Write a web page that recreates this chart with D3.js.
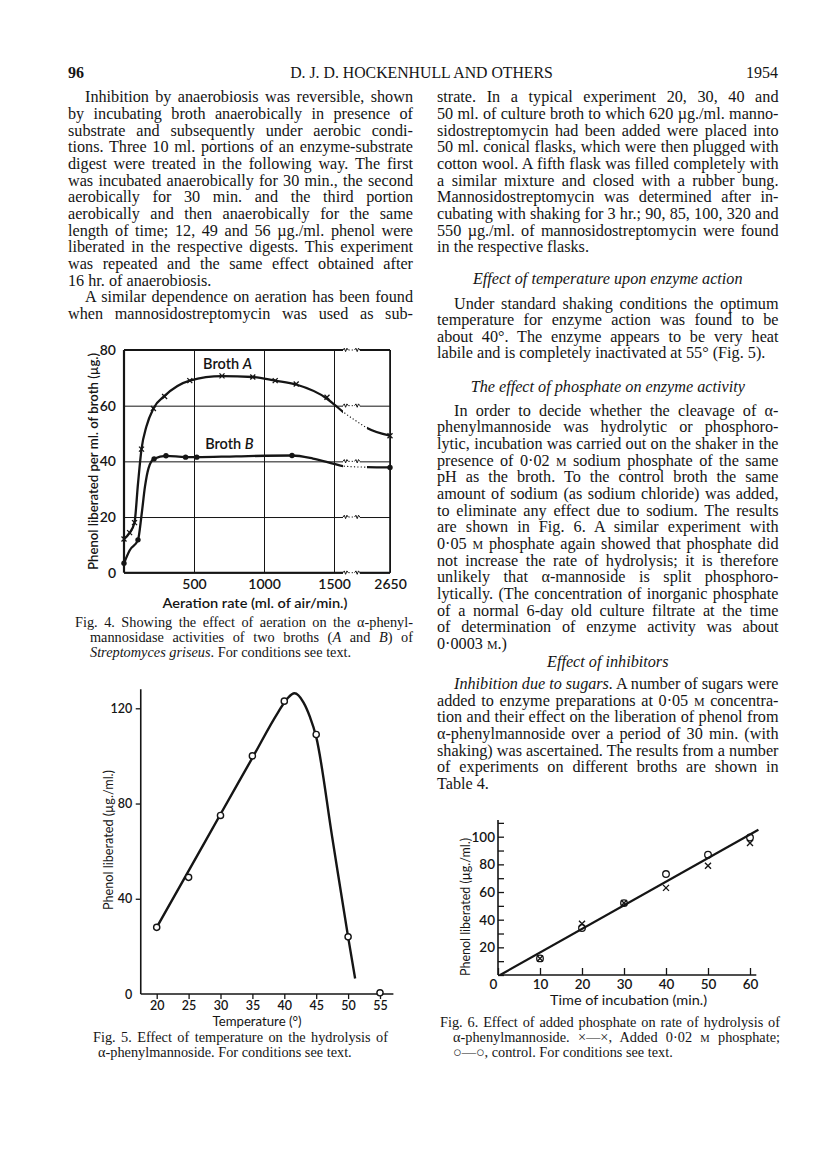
<!DOCTYPE html>
<html>
<head>
<meta charset="utf-8">
<script src="https://cdn.jsdelivr.net/npm/d3@7/dist/d3.min.js"></script>
<style>
  body { margin: 0; background: #fff; }
  svg { display: block; }
  text { white-space: pre; }
</style>
</head>
<body>
<svg id="page" width="816" height="1164"></svg>
<script>
// Fig. 4: aeration rate (ml. of air/min.) against phenol liberated (µg./ml. broth)
const aerationTicks = [500, 1000, 1500, 2650]
const phenol4Ticks = [0, 20, 40, 60, 80]
const brothA = [[0, 12.1], [40, 14.4], [75, 18], [125, 44.4], [210, 59], [290, 63.3], [470, 69], [700, 70.7], [920, 70.3], [1080, 69], [1230, 67.8], [1450, 63], [2650, 49.2]]
const brothB = [[0, 3.4], [100, 11.8], [215, 40.9], [300, 42], [440, 41.5], [520, 41.5], [1200, 42.1], [2650, 37.8]]
// the hand-drawn curves
const brothACurve = [[0, 12.1], [40, 14.3], [75, 18], [100, 32], [125, 44.4], [160, 52.5], [210, 59], [290, 63.5], [470, 69], [700, 70.6], [920, 70.3], [1080, 69], [1230, 67.6], [1450, 62.5], [1500, 60.5], [1685, 57.8], [1930, 54.8], [2178, 52], [2650, 49.2]]
const brothBCurve = [[0, 3.4], [40, 8], [100, 11.8], [126, 21], [150, 31], [175, 37.5], [215, 40.9], [300, 42], [440, 41.5], [520, 41.5], [800, 41.8], [1200, 42.1], [1350, 41], [1500, 39.1], [1685, 38.3], [2178, 37.9], [2650, 37.8]]
const aerationBreak = [1685, 2030]
const dottedSpan = [1685, 2178]

// Fig. 5: temperature against phenol liberated
const tempTicks = [20, 25, 30, 35, 40, 45, 50, 55]
const phenol5Ticks = [0, 40, 80, 120]
const tempPoints = [[20, 28], [25, 49], [30, 75], [35, 100], [40, 123], [45, 109], [50, 24], [55, 0.5]]
const tempCurve = [[20, 28], [25, 51.7], [30, 75.5], [35, 99.2], [39, 118.2], [40.5, 124.2], [41.6, 126.3], [43, 122.5], [44, 116.5], [45, 108], [47.5, 66], [50, 24], [51.1, 6.5]]

// Fig. 6: time of incubation against phenol liberated
const timeTicks = [0, 10, 20, 30, 40, 50, 60]
const phenol6Ticks = [0, 10, 20, 30, 40, 50, 60, 70, 80, 90, 100, 110]
const incubationTimes = [10, 20, 30, 40, 50, 60]
const withPhosphate = [12, 37, 52, 63, 79, 95.5]
const control = [12, 34, 52, 73, 87, 99.4]
const fitLine = [[0.5, 0], [62, 105]]

// page text
const leftColumn = [
  { y: 102.3, indent: true, lines: [
    'Inhibition by anaerobiosis was reversible, shown',
    'by incubating broth anaerobically in presence of',
    'substrate and subsequently under aerobic condi-',
    'tions. Three 10 ml. portions of an enzyme-substrate',
    'digest were treated in the following way. The first',
    'was incubated anaerobically for 30 min., the second',
    'aerobically for 30 min. and the third portion',
    'aerobically and then anaerobically for the same',
    'length of time; 12, 49 and 56 µg./ml. phenol were',
    'liberated in the respective digests. This experiment',
    'was repeated and the same effect obtained after',
    '16 hr. of anaerobiosis.'] },
  { y: 302.2, indent: true, cont: true, lines: [
    'A similar dependence on aeration has been found',
    'when mannosidostreptomycin was used as sub-'] }
]
const rightColumn = [
  { y: 102.3, lines: [
    'strate. In a typical experiment 20, 30, 40 and',
    '50 ml. of culture broth to which 620 µg./ml. manno-',
    'sidostreptomycin had been added were placed into',
    '50 ml. conical flasks, which were then plugged with',
    'cotton wool. A fifth flask was filled completely with',
    'a similar mixture and closed with a rubber bung.',
    'Mannosidostreptomycin was determined after in-',
    'cubating with shaking for 3 hr.; 90, 85, 100, 320 and',
    '550 µg./ml. of mannosidostreptomycin were found',
    'in the respective flasks.'] },
  { y: 284, heading: 'Effect of temperature upon enzyme action' },
  { y: 308.5, indent: true, lines: [
    'Under standard shaking conditions the optimum',
    'temperature for enzyme action was found to be',
    'about 40°. The enzyme appears to be very heat',
    'labile and is completely inactivated at 55° (Fig. 5).'] },
  { y: 391.5, heading: 'The effect of phosphate on enzyme activity' },
  { y: 415.7, indent: true, lines: [
    'In order to decide whether the cleavage of α-',
    'phenylmannoside was hydrolytic or phosphoro-',
    'lytic, incubation was carried out on the shaker in the',
    'presence of 0·02 ^M sodium phosphate of the same',
    'pH as the broth. To the control broth the same',
    'amount of sodium (as sodium chloride) was added,',
    'to eliminate any effect due to sodium. The results',
    'are shown in Fig. 6. A similar experiment with',
    '0·05 ^M phosphate again showed that phosphate did',
    'not increase the rate of hydrolysis; it is therefore',
    'unlikely that α-mannoside is split phosphoro-',
    'lytically. (The concentration of inorganic phosphate',
    'of a normal 6-day old culture filtrate at the time',
    'of determination of enzyme activity was about',
    '0·0003 ^M.)'] },
  { y: 667.3, heading: 'Effect of inhibitors' },
  { y: 689, indent: true, lines: [
    '*Inhibition due to sugars.* A number of sugars were',
    'added to enzyme preparations at 0·05 ^M concentra-',
    'tion and their effect on the liberation of phenol from',
    'α-phenylmannoside over a period of 30 min. (with',
    'shaking) was ascertained. The results from a number',
    'of experiments on different broths are shown in',
    'Table 4.'] }
]
const fig4Caption = [
  'Fig. 4. Showing the effect of aeration on the α-phenyl-',
  'mannosidase activities of two broths (*A* and *B*) of',
  '*Streptomyces griseus*. For conditions see text.']
const fig5Caption = [
  'Fig. 5. Effect of temperature on the hydrolysis of',
  'α-phenylmannoside. For conditions see text.']
const fig6Caption = [
  'Fig. 6. Effect of added phosphate on rate of hydrolysis of',
  'α-phenylmannoside. ×—×, Added 0·02 ^M phosphate;',
  '○—○, control. For conditions see text.']

const svg = d3.select('#page')
const serif = '"Liberation Serif", "DejaVu Serif", serif'
const sans = 'Lato, "Open Sans", sans-serif'
const ink = '#151515'
const bodySize = 16.2
const lineStep = 16.66
const captionSize = 14.3
const captionStep = 15

// one line of text; *...* is italic, ^M a small capital M
function richLine(parent, str, x, y, opts = {}) {
  const t = parent.append('text')
    .attr('x', x)
    .attr('y', y)
    .attr('fill', ink)
    .attr('font-family', opts.family || serif)
    .attr('font-size', opts.size || bodySize)
  if (opts.anchor) t.attr('text-anchor', opts.anchor)
  if (opts.italic) t.attr('font-style', 'italic')
  str.split(/(\*[^*]+\*|\^M)/).filter((s) => s).forEach((s) => {
    if (s[0] === '*') t.append('tspan').attr('font-style', 'italic').text(s.slice(1, -1))
    else if (s === '^M') t.append('tspan').attr('font-size', '0.74em').text('M')
    else t.append('tspan').text(s)
  })
  if (opts.width) {
    const natural = t.node().getComputedTextLength()
    const spaces = (t.text().match(/ /g) || []).length
    const ws = spaces ? (opts.width - natural) / spaces : 0
    if (ws >= -0.8) t.attr('word-spacing', ws)
    else t.attr('textLength', opts.width).attr('lengthAdjust', 'spacingAndGlyphs')
  }
  return t
}

function drawColumn(blocks, x, width) {
  blocks.forEach((block) => {
    if (block.heading) {
      richLine(svg, block.heading, x + width / 2, block.y, { anchor: 'middle', italic: true })
      return
    }
    block.lines.forEach((line, i) => {
      const indent = block.indent && i === 0 ? 17 : 0
      const last = i === block.lines.length - 1 && !block.cont
      richLine(svg, line, x + indent, block.y + i * lineStep, { width: last ? null : width - indent })
    })
  })
}

// running head
richLine(svg, '96', 68, 77.5, { size: 16 }).attr('font-weight', 'bold')
richLine(svg, 'D. J. D. HOCKENHULL AND OTHERS', 421.5, 77.5, { size: 15.8, anchor: 'middle' })
richLine(svg, '1954', 778, 77.5, { size: 16, anchor: 'end' })

drawColumn(leftColumn, 68, 345)
drawColumn(rightColumn, 437, 341.5)

function styleAxis(g, size, weight) {
  g.select('.domain').remove()
  g.attr('font-family', null).attr('font-size', null)
  g.selectAll('text')
    .attr('font-family', sans)
    .attr('font-size', size)
    .attr('font-weight', weight || 'normal')
    .attr('fill', ink)
  g.selectAll('line').attr('stroke', ink)
}

function axisTitle(parent, str, x, y, size, length, vertical) {
  const t = richLine(parent, str, 0, 0, { family: sans, size, anchor: 'middle' })
    .attr('transform', vertical ? `translate(${x},${y}) rotate(-90)` : `translate(${x},${y})`)
    .attr('textLength', length)
    .attr('lengthAdjust', 'spacingAndGlyphs')
  if (vertical) t.attr('dy', '0.35em')
  return t
}

function crossPath(size) {
  return `M${-size},${-size}L${size},${size}M${-size},${size}L${size},${-size}`
}

function caption(lines, x0, x1, right, y) {
  lines.forEach((line, i) => {
    const x = i === 0 ? x0 : x1
    const justify = right && i < lines.length - 1
    richLine(svg, line, x, y + i * captionStep, { size: captionSize, width: justify ? right - x : null })
  })
}

// ---------- Fig. 4 ----------
const x4 = d3.scaleLinear().domain([0, 1500, 2650]).range([124, 334, 390])
const y4 = d3.scaleLinear().domain([0, 80]).range([572.7, 350])
const g4 = svg.append('g')

const xAxis4 = g4.append('g')
  .attr('transform', `translate(0,${y4(0)})`)
  .call(d3.axisBottom(x4).tickValues(aerationTicks).tickFormat(d3.format('d'))
    .tickSize(y4(80) - y4(0)).tickPadding(6))
styleAxis(xAxis4, 14, 600)
xAxis4.selectAll('line').attr('stroke-width', 1)

const yAxis4 = g4.append('g')
  .attr('transform', `translate(${x4(0)},0)`)
  .call(d3.axisLeft(y4).tickValues(phenol4Ticks).tickSize(x4(0) - x4(2650)).tickPadding(8))
styleAxis(yAxis4, 14, 600)
yAxis4.selectAll('line').attr('stroke-width', 1)

// frame
const frame4 = [
  [x4(0), y4(0), x4(0), y4(80), 2.2],
  [x4(0), y4(0), x4(2650), y4(0), 2],
  [x4(0), y4(80), x4(2650), y4(80), 1.8],
  [x4(2650), y4(0), x4(2650), y4(80), 1.6]
]
g4.selectAll('line.frame').data(frame4).enter().append('line')
  .attr('class', 'frame')
  .attr('x1', (d) => d[0]).attr('y1', (d) => d[1])
  .attr('x2', (d) => d[2]).attr('y2', (d) => d[3])
  .attr('stroke', ink)
  .attr('stroke-width', (d) => d[4])

// scale break marks on every horizontal rule
const bx0 = x4(aerationBreak[0])
const bx1 = x4(aerationBreak[1])
const breaks = g4.selectAll('g.break').data(phenol4Ticks).enter().append('g').attr('class', 'break')
breaks.append('rect')
  .attr('x', bx0).attr('y', (d) => y4(d) - 2.2)
  .attr('width', bx1 - bx0).attr('height', 4.4)
  .attr('fill', '#fff')
breaks.append('line')
  .attr('x1', bx0 + 5.5).attr('x2', bx1 - 5.5)
  .attr('y1', (d) => y4(d)).attr('y2', (d) => y4(d))
  .attr('stroke', ink).attr('stroke-width', 1).attr('stroke-dasharray', '1.2,2')
const zig = (x, y) => `M${x},${y}l1.3,-1.8l1.3,3.4l1.3,-3.4l1.3,1.8`
breaks.append('path')
  .attr('d', (d) => zig(bx0, y4(d)) + zig(bx1 - 5.2, y4(d)))
  .attr('fill', 'none').attr('stroke', ink).attr('stroke-width', 1)

// clip the curves so they run dotted across the break
const defs = svg.append('defs')
const solidClip = defs.append('clipPath').attr('id', 'solid4')
solidClip.append('rect').attr('x', 0).attr('y', 0).attr('width', x4(dottedSpan[0])).attr('height', 1164)
solidClip.append('rect').attr('x', x4(dottedSpan[1])).attr('y', 0).attr('width', 816 - x4(dottedSpan[1])).attr('height', 1164)
defs.append('clipPath').attr('id', 'dotted4').append('rect')
  .attr('x', x4(dottedSpan[0])).attr('y', 0)
  .attr('width', x4(dottedSpan[1]) - x4(dottedSpan[0])).attr('height', 1164)

const line4 = d3.line().x((d) => x4(d[0])).y((d) => y4(d[1])).curve(d3.curveMonotoneX)
;[brothACurve, brothBCurve].forEach((curve) => {
  g4.append('path').attr('d', line4(curve)).attr('clip-path', 'url(#solid4)')
    .attr('fill', 'none').attr('stroke', ink).attr('stroke-width', 2.3)
  g4.append('path').attr('d', line4(curve)).attr('clip-path', 'url(#dotted4)')
    .attr('fill', 'none').attr('stroke', ink).attr('stroke-width', 1.1).attr('stroke-dasharray', '1.2,2.2')
})

g4.selectAll('path.brothA').data(brothA).enter().append('path')
  .attr('class', 'brothA')
  .attr('transform', (d) => `translate(${x4(d[0])},${y4(d[1])})`)
  .attr('d', crossPath(2.5))
  .attr('stroke', ink).attr('stroke-width', 1.3)
g4.selectAll('circle.brothB').data(brothB).enter().append('circle')
  .attr('class', 'brothB')
  .attr('cx', (d) => x4(d[0])).attr('cy', (d) => y4(d[1]))
  .attr('r', 2.7).attr('fill', ink)

richLine(g4, 'Broth *A*', x4(565), y4(73), { family: sans, size: 14.5 }).attr('font-weight', 600)
richLine(g4, 'Broth *B*', x4(580), y4(44.6), { family: sans, size: 14.5 }).attr('font-weight', 600)
axisTitle(g4, 'Phenol liberated per ml. of broth (µg.)', 93.5, 461.5, 14, 217, true).attr('font-weight', 600)
axisTitle(g4, 'Aeration rate (ml. of air/min.)', 255, 608, 14, 185).attr('font-weight', 600)

caption(fig4Caption, 75, 90, 413, 626.5)

// ---------- Fig. 5 ----------
const x5 = d3.scaleLinear().domain([20, 55]).range([156.7, 380])
const y5 = d3.scaleLinear().domain([0, 120]).range([994, 708.3])
const g5 = svg.append('g')

g5.append('line')
  .attr('x1', x5(17.5)).attr('x2', x5(57.1))
  .attr('y1', y5(0)).attr('y2', y5(0))
  .attr('stroke', ink).attr('stroke-width', 1.6)
g5.append('line')
  .attr('x1', x5(17.5)).attr('x2', x5(17.5))
  .attr('y1', y5(0)).attr('y2', y5(128))
  .attr('stroke', ink).attr('stroke-width', 1.6)

const xAxis5 = g5.append('g')
  .attr('transform', `translate(0,${y5(0)})`)
  .call(d3.axisBottom(x5).tickValues(tempTicks).tickSize(5).tickPadding(2))
styleAxis(xAxis5, 12.5, 600)
xAxis5.selectAll('line').attr('stroke-width', 1.3)

const yAxis5 = g5.append('g')
  .attr('transform', `translate(${x5(17.5)},0)`)
  .call(d3.axisLeft(y5).tickValues(phenol5Ticks).tickSize(5).tickPadding(3.5))
styleAxis(yAxis5, 12.5, 600)
yAxis5.selectAll('line').attr('stroke-width', 1.3)
yAxis5.selectAll('.tick').filter((d) => d === 0).select('line').remove()

const line5 = d3.line().x((d) => x5(d[0])).y((d) => y5(d[1])).curve(d3.curveMonotoneX)
g5.append('path').attr('d', line5(tempCurve))
  .attr('fill', 'none').attr('stroke', ink).attr('stroke-width', 2.4)
g5.selectAll('circle').data(tempPoints).enter().append('circle')
  .attr('cx', (d) => x5(d[0])).attr('cy', (d) => y5(d[1]))
  .attr('r', 3.1).attr('fill', '#fff').attr('stroke', ink).attr('stroke-width', 1.4)

axisTitle(g5, 'Phenol liberated (µg./ml.)', 108.5, 840, 12.5, 140, true)
axisTitle(g5, 'Temperature (°)', 257, 1026, 12.5, 89)

caption(fig5Caption, 93, 98, 388, 1041.5)

// ---------- Fig. 6 ----------
const x6 = d3.scaleLinear().domain([0, 60]).range([498, 750])
const y6 = d3.scaleLinear().domain([0, 100]).range([975, 836.7])
const g6 = svg.append('g')

g6.append('line')
  .attr('x1', x6(0)).attr('x2', x6(61.5))
  .attr('y1', y6(0)).attr('y2', y6(0))
  .attr('stroke', ink).attr('stroke-width', 1.6)
g6.append('line')
  .attr('x1', x6(0)).attr('x2', x6(0))
  .attr('y1', y6(0)).attr('y2', y6(112))
  .attr('stroke', ink).attr('stroke-width', 1.6)

const xAxis6 = g6.append('g')
  .attr('transform', `translate(0,${y6(0)})`)
  .call(d3.axisBottom(x6).tickValues(timeTicks).tickSizeInner(-7).tickSizeOuter(0).tickPadding(4))
styleAxis(xAxis6, 13.5, 600)
xAxis6.selectAll('line').attr('stroke-width', 1.3)
xAxis6.selectAll('.tick').filter((d) => d === 0).select('text').attr('dx', -5)

const yAxis6 = g6.append('g')
  .attr('transform', `translate(${x6(0)},0)`)
  .call(d3.axisLeft(y6).tickValues(phenol6Ticks).tickSizeInner(-6).tickSizeOuter(0).tickPadding(3)
    .tickFormat((d) => (d > 0 && d % 20 === 0 ? d : '')))
styleAxis(yAxis6, 13.5, 600)
yAxis6.selectAll('line').attr('stroke-width', 1.3)

const line6 = d3.line().x((d) => x6(d[0])).y((d) => y6(d[1]))
g6.append('path').attr('d', line6(fitLine))
  .attr('fill', 'none').attr('stroke', ink).attr('stroke-width', 2.2)
g6.selectAll('circle').data(incubationTimes).enter().append('circle')
  .attr('cx', (d) => x6(d)).attr('cy', (d, i) => y6(control[i]))
  .attr('r', 3.3).attr('fill', 'none').attr('stroke', ink).attr('stroke-width', 1.3)
g6.selectAll('path.phosphate').data(incubationTimes).enter().append('path')
  .attr('class', 'phosphate')
  .attr('transform', (d, i) => `translate(${x6(d)},${y6(withPhosphate[i])})`)
  .attr('d', crossPath(3))
  .attr('stroke', ink).attr('stroke-width', 1.4)

axisTitle(g6, 'Phenol liberated (µg./ml.)', 465.5, 907, 13, 138, true)
axisTitle(g6, 'Time of incubation (min.)', 628.5, 1004.5, 13.5, 157)

caption(fig6Caption, 440, 453, 780, 1026.5)
</script>
</body>
</html>
